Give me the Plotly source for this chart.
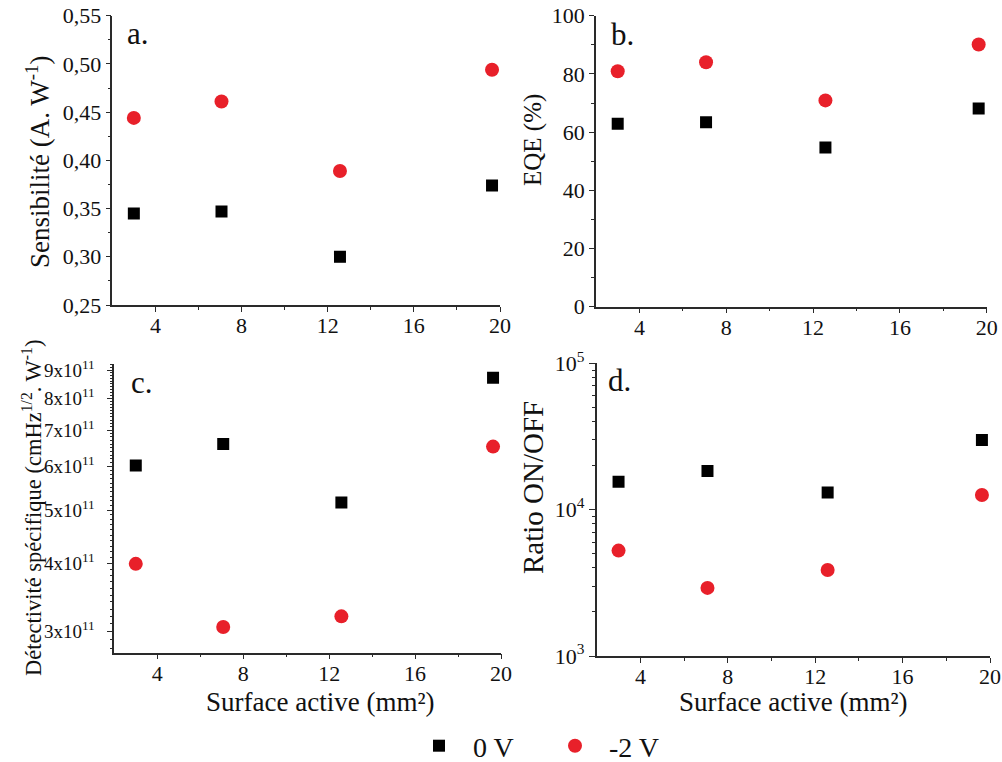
import numpy as np
import plotly.graph_objects as go

# ---------------- data ----------------
area = [3.0, 7.07, 12.57, 19.63]
sens_0V = [0.345, 0.347, 0.300, 0.374]
sens_m2V = [0.444, 0.461, 0.389, 0.494]
eqe_0V = [62.9, 63.4, 54.7, 68.1]
eqe_m2V = [80.9, 84.0, 70.9, 90.1]
det_0V = [6.03e11, 6.60e11, 5.16e11, 8.72e11]
det_m2V = [3.99e11, 3.06e11, 3.20e11, 6.53e11]
ratio_0V = [1.55e4, 1.84e4, 1.31e4, 2.99e4]
ratio_m2V = [5.25e3, 2.92e3, 3.87e3, 1.26e4]

series_names = ["\u00a0\u00a00 V", "\u00a0\u00a0-2 V"]
x_ticks = [4, 8, 12, 16, 20]
det_ticks = [3e11, 4e11, 5e11, 6e11, 7e11, 8e11, 9e11]
det_ticktext = ["%dx10<sup>11</sup>" % m for m in range(3, 10)]
ratio_ticks = [1e3, 1e4, 1e5]
ratio_ticktext = ["10<sup>3</sup>", "10<sup>4</sup>", "10<sup>5</sup>"]

W, H = 1002, 762
FONT = "Liberation Serif"
BLACK = "#000000"
RED = "#e8202a"
AX = "#2a2a2a"


def px_x(p):
    return p / W


def px_y(p):
    return 1 - p / H


# panel geometry in pixels: left, right, top, bottom
panels = {
    "a": (112.3, 500.0, 15.7, 305.0),
    "b": (596.0, 986.7, 15.7, 306.7),
    "c": (114.3, 501.0, 364.0, 652.7),
    "d": (596.7, 990.0, 363.3, 656.0),
}

fig = go.Figure()

panel_data = [
    ("a", sens_0V, sens_m2V),
    ("b", eqe_0V, eqe_m2V),
    ("c", det_0V, det_m2V),
    ("d", ratio_0V, ratio_m2V),
]

for i, (key, s0, s2) in enumerate(panel_data):
    n = i + 1
    xa = "x" if n == 1 else "x%d" % n
    ya = "y" if n == 1 else "y%d" % n
    fig.add_trace(go.Scatter(
        x=area, y=s0, mode="markers", name=series_names[0],
        legendgroup="0V", showlegend=(n == 1),
        marker=dict(symbol="square", size=12, color=BLACK),
        xaxis=xa, yaxis=ya))
    fig.add_trace(go.Scatter(
        x=area, y=s2, mode="markers", name=series_names[1],
        legendgroup="2V", showlegend=(n == 1),
        marker=dict(symbol="circle", size=14, color=RED),
        xaxis=xa, yaxis=ya))

det_minor = [k * 1e10 for k in range(28, 93) if k % 10 != 0]
ratio_minor = [m * 10 ** e for e in (3, 4) for m in range(2, 10)]

yspecs = {
    "a": dict(type="linear", range=[0.25, 0.55], tickvals=[0.25, 0.30, 0.35, 0.40, 0.45, 0.50, 0.55],
              ticktext=["0,25", "0,30", "0,35", "0,40", "0,45", "0,50", "0,55"],
              minor=[0.275, 0.325, 0.375, 0.425, 0.475, 0.525], fs=22, ml=5, so=0),
    "b": dict(type="linear", range=[0, 100], tickvals=[0, 20, 40, 60, 80, 100],
              ticktext=["0", "20", "40", "60", "80", "100"],
              minor=[10, 30, 50, 70, 90], fs=22, ml=5, so=0),
    "c": dict(type="log", range=[11.4388, 11.9656], tickvals=det_ticks, ticktext=det_ticktext,
              minor=det_minor, fs=19, ml=6, so=8),
    "d": dict(type="log", range=[3, 5], tickvals=ratio_ticks, ticktext=ratio_ticktext,
              minor=ratio_minor, fs=22, ml=6, so=0),
}

layout = dict()
for i, key in enumerate(["a", "b", "c", "d"]):
    n = i + 1
    L, R, T, B = panels[key]
    xdom = [px_x(L), px_x(R)]
    ydom = [px_y(B), px_y(T)]
    xname = "xaxis" if n == 1 else "xaxis%d" % n
    yname = "yaxis" if n == 1 else "yaxis%d" % n
    xref = "x" if n == 1 else "x%d" % n
    yref = "y" if n == 1 else "y%d" % n
    ys = yspecs[key]
    common_line = dict(showline=True, linecolor=AX, linewidth=1.5, showgrid=False,
                       zeroline=False, tickcolor=AX, tickwidth=1.3, automargin=False)
    layout[xname] = dict(domain=xdom, anchor=yref, range=[2, 20], tickvals=x_ticks,
                         ticks="outside", ticklen=5, ticklabelstandoff=-5,
                         ticklabeloverflow="allow",
                         minor=dict(tickvals=[6, 10, 14, 18], ticks="outside", ticklen=3,
                                    tickcolor=AX, tickwidth=1.2),
                         tickfont=dict(family=FONT, size=22, color="#111"),
                         **common_line)
    layout[yname] = dict(domain=ydom, anchor=xref, type=ys["type"], range=ys["range"],
                         tickvals=ys["tickvals"], ticktext=ys["ticktext"],
                         ticks="outside", ticklen=ys["ml"], ticklabelstandoff=ys["so"],
                         ticklabeloverflow="allow",
                         minor=dict(tickvals=ys["minor"], ticks="outside", ticklen=3,
                                    tickcolor=AX, tickwidth=1.2),
                         tickfont=dict(family=FONT, size=ys["fs"], color="#111"),
                         **common_line)
    # mirrored axes with inward ticks (top and right)
    tn = n + 4
    layout["xaxis%d" % tn] = dict(overlaying=xref, side="top", anchor=yref, range=[2, 20],
                                  tickvals=x_ticks, ticks="inside", ticklen=5,
                                  showticklabels=False,
                                  minor=dict(tickvals=[6, 10, 14, 18], ticks="inside", ticklen=3,
                                             tickcolor=AX, tickwidth=1.2),
                                  **common_line)
    layout["yaxis%d" % tn] = dict(overlaying=yref, side="right", anchor=xref, type=ys["type"],
                                  range=ys["range"], tickvals=ys["tickvals"],
                                  ticks="inside", ticklen=ys["ml"], showticklabels=False,
                                  minor=dict(tickvals=ys["minor"], ticks="inside", ticklen=3,
                                             tickcolor=AX, tickwidth=1.2),
                                  **common_line)

annotations = []
# panel letters
letters = [("a.", 125, 34), ("b.", 609, 35), ("c.", 129, 382), ("d.", 606, 380)]
for txt, lx, ly in letters:
    annotations.append(dict(text=txt, x=px_x(lx), y=px_y(ly), xref="paper", yref="paper",
                            xanchor="left", yanchor="middle", showarrow=False,
                            font=dict(family=FONT, size=31, color="#111")))
# axis titles
titles = [
    ("Sensibilité (A. W<sup>-1</sup>)", 38, 162, 27),
    ("EQE (%)", 533, 140, 25),
    ("Détectivité spécifique (cmHz<sup>1/2</sup>. W<sup>-1</sup>)", 32, 508, 22.5),
    ("Ratio ON/OFF", 533, 488, 29),
]
for txt, tx, ty, fs in titles:
    annotations.append(dict(text=txt, x=px_x(tx), y=px_y(ty), xref="paper", yref="paper",
                            xanchor="center", yanchor="middle", textangle=-90, showarrow=False,
                            font=dict(family=FONT, size=fs, color="#111")))
for cx in (320, 793):
    annotations.append(dict(text="Surface active (mm²)", x=px_x(cx), y=px_y(702),
                            xref="paper", yref="paper", xanchor="center", yanchor="middle",
                            showarrow=False, font=dict(family=FONT, size=27, color="#111")))

fig.update_layout(
    width=W, height=H,
    margin=dict(l=0, r=0, t=0, b=0, autoexpand=False),
    paper_bgcolor="white", plot_bgcolor="white",
    separators=", ",
    annotations=annotations,
    showlegend=True,
    legend=dict(orientation="h", x=px_x(419), xanchor="left", y=px_y(746), yanchor="middle",
                font=dict(family=FONT, size=28, color="#111"),
                entrywidth=91, bgcolor="rgba(0,0,0,0)"),
    **layout,
)

fig.write_html("out.html", config={"displayModeBar": False},
               post_script="document.body.style.margin='0px';")
